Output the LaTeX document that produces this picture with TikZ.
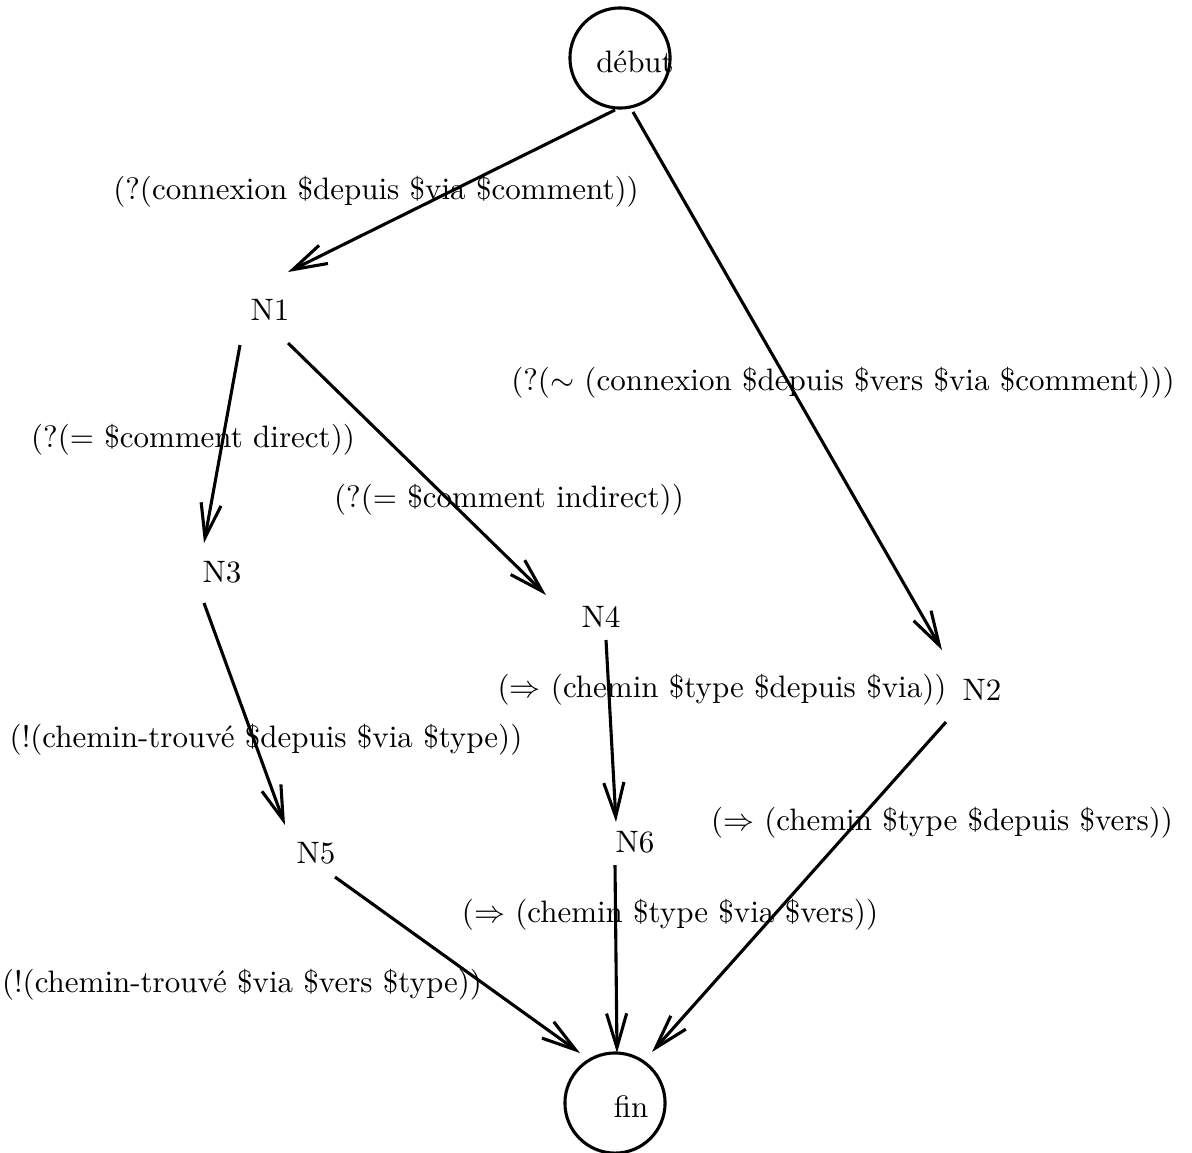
\documentclass[tikz,border=0pt]{standalone}
\usetikzlibrary{arrows.meta,calc}
\begin{document}
\begin{tikzpicture}[x=0.3226pt,y=-0.3226pt,
  lbl/.style={inner sep=0pt,font=\normalsize},
  st/.style={circle,draw,line width=1pt,minimum size=32.3pt,inner sep=0pt},
  arr/.style={line width=1pt,-{Straight Barb[length=11pt,width=6.5pt,line width=1pt]}}]
\path[use as bounding box] (0,0) rectangle (1192,1152);
% states
\node[st] (debut) at (620,58) {};
\node[lbl] (debutt) at (635,62) {début};
\node[st] (fin) at (615,1103) {};
\node[lbl] (fint) at (631,1107) {fin};
\node[lbl] (N1) at (270,310) {N1};
\node[lbl] (N3) at (222,572) {N3};
\node[lbl] (N4) at (601,617) {N4};
\node[lbl] (N2) at (982,690) {N2};
\node[lbl] (N5) at (316,853) {N5};
\node[lbl] (N6) at (635,842) {N6};
% edges
\draw[arr] ($(debut)+(-5,52)$) -- ($(N1)+(18,-38)$);
\draw[arr] ($(debut)+(13,54)$) -- ($(N2)+(-40,-40)$);
\draw[arr] ($(N1)+(-30,35)$) -- ($(N3)+(-18,-29)$);
\draw[arr] ($(N1)+(18,33)$) -- ($(N4)+(-55,-22)$);
\draw[arr] ($(N3)+(-18,31)$) -- ($(N5)+(-31,-28)$);
\draw[arr] ($(N4)+(5,23)$) -- ($(N6)+(-19,-20)$);
\draw[arr] ($(N5)+(19,24)$) -- ($(fin)+(-35,-50)$);
\draw[arr] ($(N6)+(-20,23)$) -- ($(fin)+(2,-50)$);
\draw[arr] ($(N2)+(-36,32)$) -- ($(fin)+(37,-51)$);
% labels
\node[lbl] (l1) at (376,192) {(?(connexion \$depuis \$via \$comment))};
\node[lbl] (l2) at (843,383) {(?($\sim$ (connexion \$depuis \$vers \$via \$comment)))};
\node[lbl] (l3) at (193,440) {(?(= \$comment direct))};
\node[lbl] (l4) at (509,500) {(?(= \$comment indirect))};
\node[lbl] (l5) at (266,740) {(!(chemin-trouvé \$depuis \$via \$type))};
\node[lbl] (l6) at (722,690) {($\Rightarrow$ (chemin \$type \$depuis \$via))};
\node[lbl] (l7) at (942,823) {($\Rightarrow$ (chemin \$type \$depuis \$vers))};
\node[lbl] (l8) at (670,915) {($\Rightarrow$ (chemin \$type \$via \$vers))};
\node[lbl] (l9) at (242,985) {(!(chemin-trouvé \$via \$vers \$type))};
\end{tikzpicture}
\end{document}
